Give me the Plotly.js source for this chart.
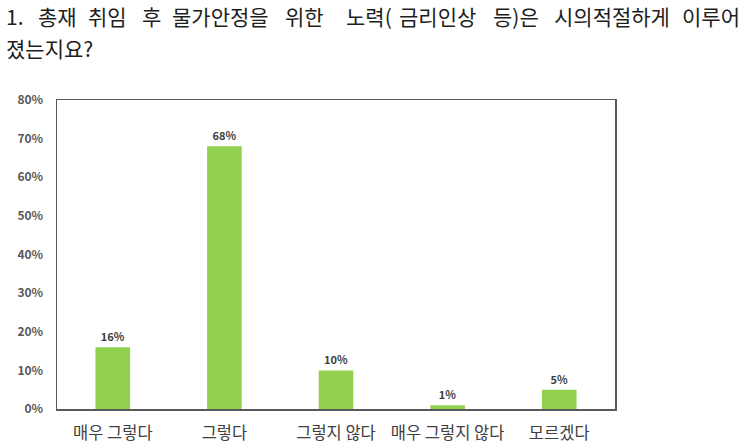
<!DOCTYPE html>
<html>
<head>
<meta charset="utf-8">
<script src="https://cdn.plot.ly/plotly-3.0.1.min.js"></script>
<style>
  html, body { margin: 0; padding: 0; background: #fff; }
  #chart { width: 745px; height: 448px; }
</style>
</head>
<body>
<div id="chart"></div>
<script>
// answers and their shares
var categories = ['매우 그렇다', '그렇다', '그렇지 않다', '매우 그렇지 않다', '모르겠다'];
var shares = [0.16, 0.68, 0.10, 0.01, 0.05];
var shareLabels = ['16%', '68%', '10%', '1%', '5%'];

// question text, first line is spread over the full width
var titleWords = ['1.', '총재', '취임', '후', '물가안정을', '위한', '노력(', '금리인상', '등)은', '시의적절하게', '이루어'];
var titleLine2 = '졌는지요?';
var wordCenter = [15, 57, 107, 151, 220, 304, 369, 437, 516, 612, 714];

var font = '"Noto Sans CJK KR", "Noto Sans", sans-serif';

// pixel -> paper helpers (plot area is 57..615 across, 100..409 down)
function px(v) { return (v - 57) / 558; }
function py(v) { return (409 - v) / 309; }

var annotations = [];
for (var i = 0; i < titleWords.length; i++)
{
    var a = {
        text: titleWords[i], xref: 'paper', yref: 'paper',
        x: px(wordCenter[i]), y: py(16),
        xanchor: 'center', yanchor: 'middle', showarrow: false,
        font: {family: font, size: 21, color: '#1e1e1e'}
    };
    if (i == 0) { a.x = px(4); a.xanchor = 'left'; }
    if (i == titleWords.length - 1) { a.x = px(742); a.xanchor = 'right'; }
    annotations.push(a);
}
annotations.push({
    text: titleLine2, xref: 'paper', yref: 'paper',
    x: px(4), y: py(48),
    xanchor: 'left', yanchor: 'middle', showarrow: false,
    font: {family: font, size: 21, color: '#1e1e1e'}
});

var trace1 =
{
    x: categories,
    y: shares,
    type: 'bar',
    width: 0.31,
    marker: {color: '#92D050'},
    text: shareLabels,
    textposition: 'outside',
    cliponaxis: false,
    textfont: {family: font, size: 11, color: '#404040', weight: 'bold'},
    hoverinfo: 'none'
};

var layout =
{
    width: 745,
    height: 448,
    margin: {l: 57, r: 130, t: 100, b: 39},
    paper_bgcolor: '#fff',
    plot_bgcolor: '#fff',
    showlegend: false,
    xaxis: {
        type: 'category', showgrid: false, zeroline: false,
        showline: true, mirror: true, linecolor: '#595959', linewidth: 1.5,
        ticks: 'outside', ticklen: 9, tickcolor: 'rgba(0,0,0,0)',
        tickfont: {family: font, size: 16.5, color: '#404040'}
    },
    yaxis: {
        range: [0, 0.8], dtick: 0.1, tickformat: '.0%',
        showgrid: false, zeroline: false,
        showline: true, mirror: true, linecolor: '#595959', linewidth: 1.5,
        ticks: 'outside', ticklen: 10, tickcolor: 'rgba(0,0,0,0)',
        tickfont: {family: font, size: 12, color: '#595959', weight: 'bold'}
    },
    annotations: annotations
};

Plotly.newPlot('chart', [trace1], layout, {displayModeBar: false, staticPlot: true});
</script>
</body>
</html>
